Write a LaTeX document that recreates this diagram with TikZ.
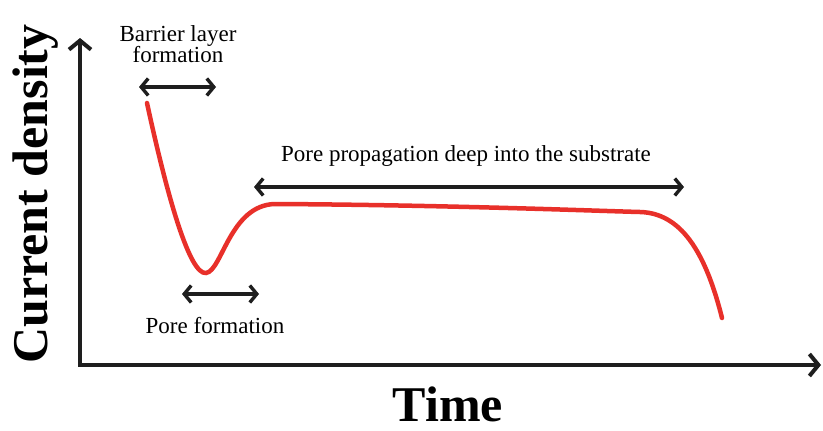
\documentclass[tikz,border=0pt]{standalone}
\usepackage{fontspec}
\setmainfont{Liberation Serif}
\usetikzlibrary{arrows.meta}
\definecolor{axisgray}{HTML}{1E1E1E}
\definecolor{curvered}{HTML}{E8302A}
\tikzset{
  axisline/.style={draw=axisgray, line width=4pt, -{Straight Barb[length=9pt,width=22pt]}},
  spanarrow/.style={draw=axisgray, line width=3.4pt, {Straight Barb[length=7pt,width=17pt]}-{Straight Barb[length=7pt,width=17pt]}},
  note/.style={font=\fontsize{23}{23}\selectfont\rmfamily, align=center, text=black, inner sep=0pt},
  axislabel/.style={font=\fontsize{50}{50}\selectfont\rmfamily\bfseries, text=black, inner sep=0pt},
}
\begin{document}
\begin{tikzpicture}[x=1pt, y=-1pt]
\useasboundingbox[fill=white] (0,0) rectangle (823,431);

% axes
\coordinate (origin) at (80,365);
\coordinate (ytip) at (80,38);
\coordinate (xtip) at (821,365);
\draw[axisline] (origin) -- (ytip);
\draw[axisline] ([xshift=-2pt]origin) -- (xtip);

\node[axislabel, rotate=90] (ylab) at (36,194) {Current density};
\node[axislabel] (xlab) at (448,404) {Time};

% current-density transient
\draw[curvered, line width=4.5pt, line cap=round]
  (147,103) .. controls (168,200) and (190,275) .. (206,273)
  .. controls (222,271) and (230,205) .. (275,204)
  .. controls (450,205) and (600,211) .. (640,212)
  .. controls (680,213) and (705,250) .. (722,318);

% stage spans
\coordinate (b1) at (139,87);
\coordinate (b2) at (216,87);
\draw[spanarrow] (b1) -- (b2);
\node[note] (barrier) at (178,44) {Barrier layer\\[-2pt]formation};

\coordinate (f1) at (182,294);
\coordinate (f2) at (259,294);
\draw[spanarrow] (f1) -- (f2);
\node[note] (poreform) at (215,326) {Pore formation};

\coordinate (p1) at (254,187);
\coordinate (p2) at (684,187);
\draw[spanarrow] (p1) -- (p2);
\node[note] (propag) at (466,156) {Pore propagation deep into the substrate};
\end{tikzpicture}
\end{document}
